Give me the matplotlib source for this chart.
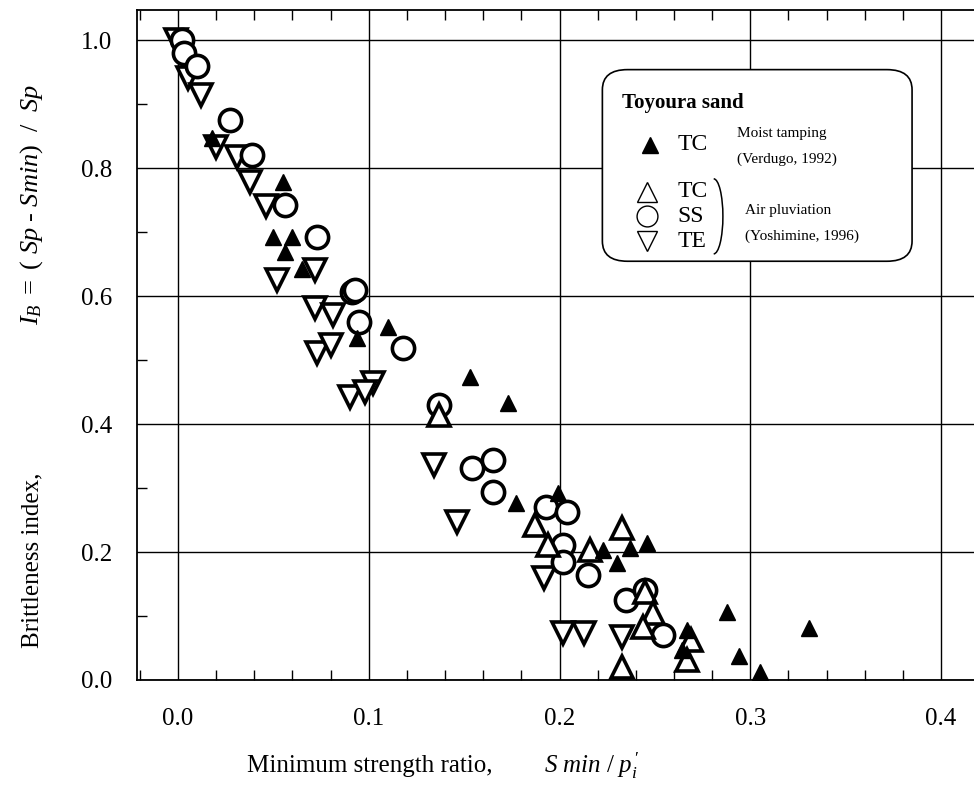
import matplotlib
matplotlib.use("Agg")
import matplotlib.pyplot as plt
from matplotlib.patches import FancyBboxPatch, Arc
from matplotlib.ticker import MultipleLocator
import numpy as np

# Toyoura sand, moist tamping TC (Verdugo, 1992) - filled triangles
tc_moist_x = [0.018, 0.055, 0.050, 0.060, 0.056, 0.065, 0.094, 0.110, 0.153, 0.173,
              0.177, 0.199, 0.223, 0.230, 0.237, 0.246, 0.267, 0.264, 0.288, 0.294,
              0.305, 0.331]
tc_moist_y = [0.847, 0.778, 0.693, 0.693, 0.669, 0.643, 0.534, 0.552, 0.473, 0.433,
              0.276, 0.292, 0.203, 0.183, 0.206, 0.214, 0.078, 0.047, 0.106, 0.037,
              0.013, 0.081]

# air pluviation (Yoshimine, 1996)
tc_air_x = [0.137, 0.187, 0.194, 0.216, 0.233, 0.245, 0.249, 0.244, 0.269, 0.267, 0.233]
tc_air_y = [0.414, 0.242, 0.211, 0.203, 0.237, 0.138, 0.104, 0.083, 0.063, 0.031, 0.020]

ss_x = [0.002, 0.003, 0.010, 0.027, 0.039, 0.056, 0.073, 0.091, 0.093, 0.095, 0.118,
        0.137, 0.154, 0.165, 0.165, 0.193, 0.204, 0.202, 0.202, 0.215, 0.235, 0.245,
        0.254]
ss_y = [1.000, 0.980, 0.960, 0.875, 0.820, 0.742, 0.693, 0.606, 0.610, 0.560, 0.519,
        0.430, 0.331, 0.344, 0.294, 0.270, 0.262, 0.211, 0.184, 0.164, 0.125, 0.140,
        0.070]

te_x = [-0.001, 0.005, 0.012, 0.020, 0.031, 0.038, 0.046, 0.052, 0.072, 0.072, 0.081,
        0.073, 0.080, 0.090, 0.102, 0.098, 0.134, 0.146, 0.192, 0.202, 0.213, 0.233]
te_y = [1.000, 0.940, 0.914, 0.833, 0.817, 0.778, 0.740, 0.625, 0.641, 0.581, 0.570,
        0.511, 0.523, 0.443, 0.464, 0.450, 0.336, 0.247, 0.159, 0.073, 0.073, 0.067]

xticks = [0.0, 0.1, 0.2, 0.3, 0.4]
yticks = [0.0, 0.2, 0.4, 0.6, 0.8, 1.0]

plt.rcParams['font.family'] = ['Liberation Serif', 'DejaVu Serif']
plt.rcParams['mathtext.fontset'] = 'custom'
plt.rcParams['mathtext.rm'] = 'Liberation Serif'
plt.rcParams['mathtext.it'] = 'Liberation Serif:italic'

fig = plt.figure(figsize=(9.74, 7.92), dpi=100)
ax = fig.add_axes([137/974, 112/792, 1 - 137/974, 670/792])

ax.set_xlim(-0.0215, 0.4173)
ax.set_ylim(0, 1.047)
ax.set_xticks(xticks)
ax.set_yticks(yticks)
ax.set_xticklabels(["%.1f" % v for v in xticks])
ax.set_yticklabels(["%.1f" % v for v in yticks])
ax.xaxis.set_minor_locator(MultipleLocator(0.02))
ax.yaxis.set_minor_locator(MultipleLocator(0.1))
ax.tick_params(which='both', direction='in', top=True, right=False, labelsize=18)
ax.tick_params(axis='x', which='major', length=0, pad=20)
ax.tick_params(axis='y', which='major', length=0, pad=18)
ax.tick_params(which='minor', length=7, width=1)
ax.spines['right'].set_visible(False)
for s in ['left', 'bottom', 'top']:
    ax.spines[s].set_linewidth(1.3)
ax.grid(True, which='major', color='black', linewidth=1.0, zorder=0)
ax.set_axisbelow(True)

hollow = dict(linestyle='none', markerfacecolor='white', markeredgecolor='black',
              markersize=16, markeredgewidth=2.6, zorder=3)
ax.plot(te_x, te_y, marker='v', **hollow)
ax.plot(ss_x, ss_y, marker='o', **hollow)
ax.plot(tc_air_x, tc_air_y, marker='^', **hollow)
ax.plot(tc_moist_x, tc_moist_y, marker='^', linestyle='none', color='black',
        markersize=11, zorder=4)

# legend box
box = FancyBboxPatch((0.556, 0.625), 0.37, 0.286, boxstyle="round,pad=0,rounding_size=0.03",
                     transform=ax.transAxes, facecolor='white', edgecolor='black',
                     linewidth=1.2, zorder=5)
ax.add_patch(box)
ax.text(0.5795, 0.861, "Toyoura sand", transform=ax.transAxes, fontsize=15,
        fontweight='bold', va='center', ha='left', zorder=6)
ax.plot([0.613], [0.799], marker='^', color='black', markersize=11,
        transform=ax.transAxes, zorder=6)
ax.text(0.646, 0.799, "TC", transform=ax.transAxes, fontsize=17, va='center', zorder=6)
ax.text(0.717, 0.815, "Moist tamping", transform=ax.transAxes, fontsize=11, va='center', zorder=6)
ax.text(0.717, 0.777, "(Verdugo, 1992)", transform=ax.transAxes, fontsize=11, va='center', zorder=6)
leg_items = [('^', 'TC', 0.729), ('o', 'SS', 0.692), ('v', 'TE', 0.655)]
for m, lab, yy in leg_items:
    ax.plot([0.609], [yy], marker=m, linestyle='none', markerfacecolor='white',
            markeredgecolor='black', markersize=15, markeredgewidth=1.0,
            transform=ax.transAxes, zorder=6)
    ax.text(0.646, yy, lab, transform=ax.transAxes, fontsize=17, va='center', zorder=6)
brace = Arc((0.689, 0.692), 0.022, 0.112, theta1=-90, theta2=90,
            transform=ax.transAxes, color='black', linewidth=1.1, zorder=6)
ax.add_patch(brace)
ax.text(0.726, 0.701, "Air pluviation", transform=ax.transAxes, fontsize=11, va='center', zorder=6)
ax.text(0.726, 0.662, "(Yoshimine, 1996)", transform=ax.transAxes, fontsize=11, va='center', zorder=6)

# axis labels
fig.text(370/974, 1 - 766/792, "Minimum strength ratio,", fontsize=18, ha='center', va='center')
fig.text(592/974, 1 - 766/792, r"$S\ min\ /\ p_{i}^{\,\prime}$", fontsize=18, ha='center', va='center')
fig.text(32/974, 1 - 560/792, "Brittleness index,", fontsize=18, ha='center', va='center',
         rotation=90)
fig.text(32/974, 1 - 205/792, r"$I_B\ =\ (\ Sp\ \text{-}\ Smin)\ \ /\ \ Sp$", fontsize=19,
         ha='center', va='center', rotation=90)

fig.savefig("out.png", dpi=100)
